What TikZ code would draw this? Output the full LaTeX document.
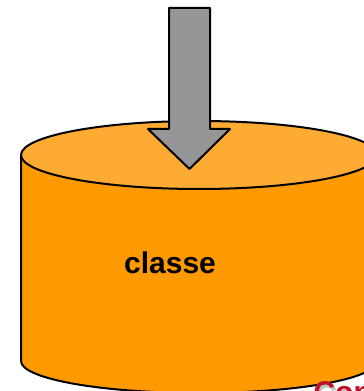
\documentclass[tikz,border=0pt]{standalone}
\usepackage{fontspec}
\setmainfont{Liberation Sans}
\usepackage{tikz}

\definecolor{sidecol}{HTML}{FF9900}
\definecolor{topcol}{HTML}{FDAB32}
\definecolor{arrowcol}{HTML}{969696}
\definecolor{titlered}{HTML}{C0102A}

\tikzset{
	outline/.style={draw=black, line width=2pt, line join=round},
	label/.style={fill=none, draw=none, font=\bfseries\fontsize{30}{34}\selectfont}
}

\begin{document}
\begin{tikzpicture}[x=1pt, y=1pt]
	\useasboundingbox (0,0) rectangle (364,391);
	\clip (0,0) rectangle (364,391);
	% the drum
	\path [outline, fill=sidecol] (21,236) -- (21,30) arc (180:360:178 and 32) -- (377,236) -- cycle;
	\path [outline, fill=topcol] (199,236) ellipse (178 and 34);
	\node [label] (C) at (170,128) {classe};
	% the arrow pointing into it
	\path [outline, fill=arrowcol] (169,383) -- (210,383) -- (210,262) -- (230,262) -- (189.5,222) -- (148,262) -- (169,262) -- cycle;
	% caption below, cut off by the page
	\node [label, text=black!25, anchor=base west] at (312,-14) {Con};
	\node [label, text=titlered, anchor=base west] (T) at (310,-12) {Con};
\end{tikzpicture}
\end{document}
